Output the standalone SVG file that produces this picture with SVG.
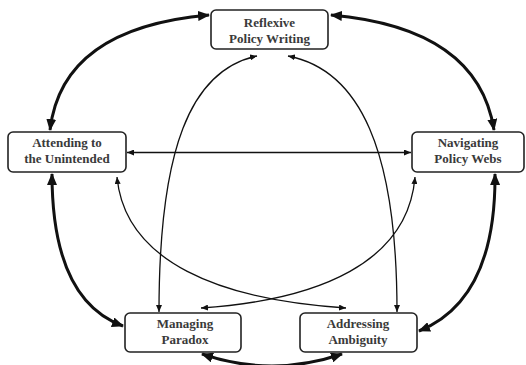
<svg xmlns="http://www.w3.org/2000/svg" width="526" height="365" viewBox="0 0 526 365">
<style>
.box{fill:#fff;stroke:#222;stroke-width:1.6}
.lbl{font-family:"Liberation Serif","Times New Roman",serif;font-size:13px;font-weight:bold;fill:#3a3a3a;text-anchor:middle}
.thick{fill:none;stroke:#111;stroke-width:3;marker-start:url(#big);marker-end:url(#big)}
.thin{fill:none;stroke:#111;stroke-width:1.3;marker-start:url(#small);marker-end:url(#small)}
</style>
<defs>
<marker id="big" markerUnits="userSpaceOnUse" viewBox="0 0 12 10" markerWidth="12" markerHeight="10" refX="11" refY="5" orient="auto-start-reverse">
<path d="M0,0 L12,5 L0,10 z" fill="#111"/>
</marker>
<marker id="small" markerUnits="userSpaceOnUse" viewBox="0 0 7 6" markerWidth="7" markerHeight="6" refX="7" refY="3" orient="auto-start-reverse">
<path d="M0,0 L7,3 L0,6 z" fill="#111"/>
</marker>
</defs>
<g id="connectors">
<path class="thick" d="M209,15 Q62,28 50,130"/>
<path class="thick" d="M331,15 Q478,28 494,130"/>
<path class="thick" d="M52,174 Q52,300 123,326"/>
<path class="thick" d="M495,174 Q496,300 419,331"/>
<path class="thick" d="M202,354 Q272,378 342,354"/>
<path class="thin" d="M127,152.5 L411,152.5"/>
<path class="thin" d="M159,312 C159,150 190,70 257,56"/>
<path class="thin" d="M397,312 C397,150 360,70 288,56"/>
<path class="thin" d="M117,177 C125,262 220,300 346,308"/>
<path class="thin" d="M415,177 C408,262 320,300 201,308"/>
</g>
<g id="reflexive">
<rect class="box" x="211" y="10" width="117" height="39" rx="5"/>
<text class="lbl" x="269.5" y="27">Reflexive</text>
<text class="lbl" x="269.5" y="43">Policy Writing</text>
</g>
<g id="attending">
<rect class="box" x="8" y="132" width="118" height="40" rx="5"/>
<text class="lbl" x="67" y="147">Attending to</text>
<text class="lbl" x="67" y="163">the Unintended</text>
</g>
<g id="navigating">
<rect class="box" x="412" y="132" width="112" height="40" rx="5"/>
<text class="lbl" x="468" y="147">Navigating</text>
<text class="lbl" x="468" y="163">Policy Webs</text>
</g>
<g id="managing">
<rect class="box" x="125" y="313" width="116" height="39" rx="5"/>
<text class="lbl" x="185" y="328">Managing</text>
<text class="lbl" x="185" y="344">Paradox</text>
</g>
<g id="addressing">
<rect class="box" x="300" y="313" width="117" height="39" rx="5"/>
<text class="lbl" x="358" y="328">Addressing</text>
<text class="lbl" x="358" y="344">Ambiguity</text>
</g>
</svg>
